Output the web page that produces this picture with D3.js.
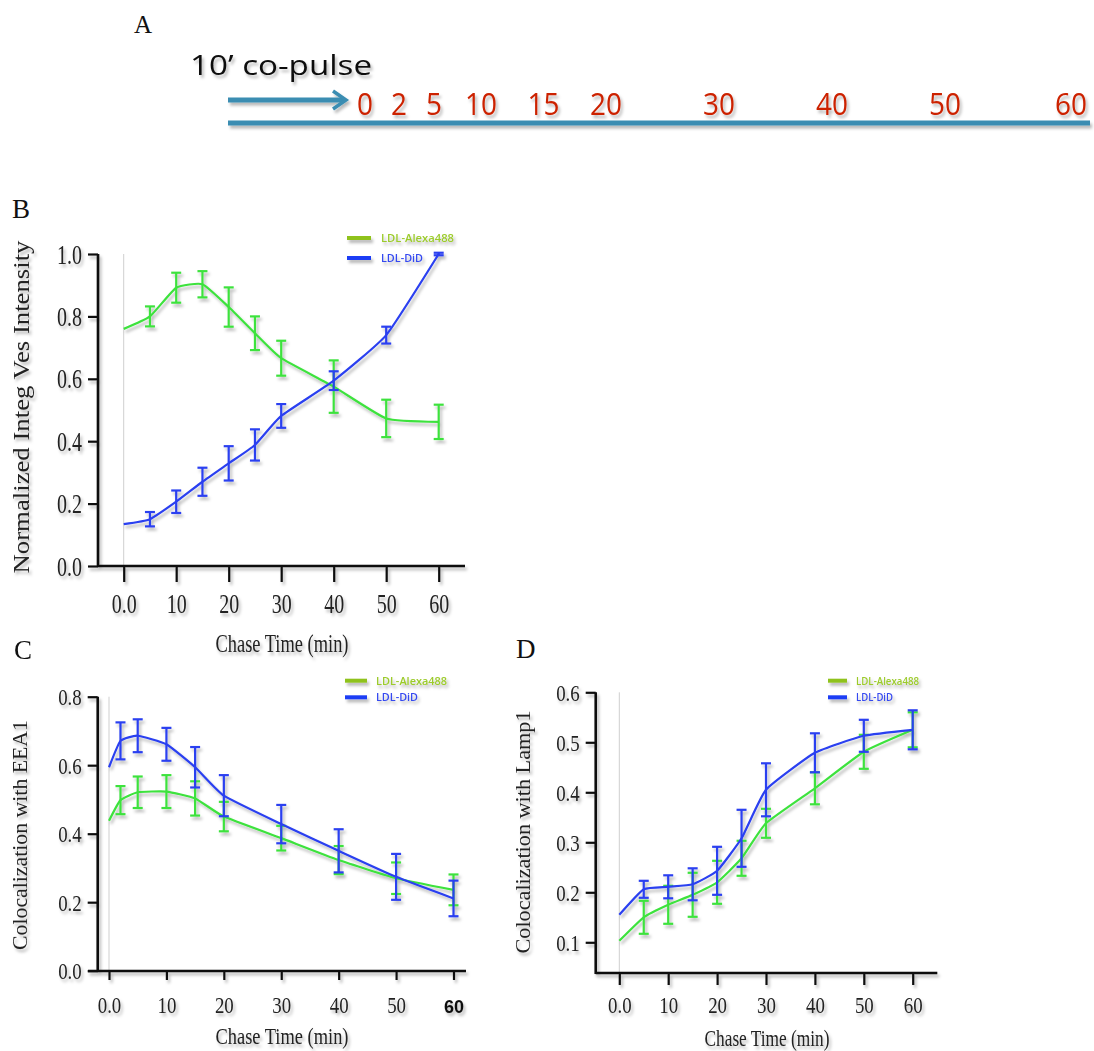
<!DOCTYPE html>
<html><head><meta charset="utf-8">
<script src="https://cdn.jsdelivr.net/npm/d3@7"></script>
<style>body{margin:0;background:#fff;} svg{display:block;}</style>
</head><body>
<script>
// ---------- DATA ----------
const pulseTimes = [0, 2, 5, 10, 15, 20, 30, 40, 50, 60];
const xTicks = [0, 10, 20, 30, 40, 50, 60];

const seriesNames = ["LDL-Alexa488", "LDL-DiD"];

// Panel B
const timeB = [0, 5, 10, 15, 20, 25, 30, 40, 50, 60];
const alexaB = [0.76, 0.80, 0.892, 0.903, 0.83, 0.746, 0.666, 0.575, 0.473, 0.462];
const alexaBErr = [0, 0.032, 0.048, 0.042, 0.063, 0.054, 0.056, 0.084, 0.06, 0.055];
const didB = [0.134, 0.15, 0.206, 0.27, 0.329, 0.388, 0.481, 0.594, 0.74, 1.0];
const didBErr = [0, 0.023, 0.036, 0.045, 0.055, 0.05, 0.038, 0.03, 0.027, 0.004];
const yTicksB = [0, 0.2, 0.4, 0.6, 0.8, 1.0];

// Panel C
const timeC = [0, 2, 5, 10, 15, 20, 30, 40, 50, 60];
const alexaC = [0.438, 0.498, 0.521, 0.523, 0.503, 0.45, 0.387, 0.323, 0.27, 0.236];
const alexaCErr = [0, 0.041, 0.046, 0.048, 0.05, 0.043, 0.036, 0.041, 0.046, 0.045];
const didC = [0.594, 0.671, 0.686, 0.661, 0.594, 0.511, 0.428, 0.35, 0.274, 0.211];
const didCErr = [0, 0.054, 0.048, 0.048, 0.059, 0.06, 0.056, 0.063, 0.067, 0.052];
const yTicksC = [0, 0.2, 0.4, 0.6, 0.8];

// Panel D
const timeD = [0, 5, 10, 15, 20, 25, 30, 40, 50, 60];
const alexaD = [0.103, 0.15, 0.175, 0.195, 0.22, 0.268, 0.338, 0.408, 0.481, 0.525];
const alexaDErr = [0, 0.033, 0.038, 0.044, 0.043, 0.035, 0.029, 0.032, 0.034, 0.035];
const didD = [0.155, 0.206, 0.211, 0.216, 0.243, 0.308, 0.405, 0.479, 0.513, 0.525];
const didDErr = [0, 0.017, 0.023, 0.032, 0.048, 0.057, 0.053, 0.039, 0.032, 0.039];
const yTicksD = [0.1, 0.2, 0.3, 0.4, 0.5, 0.6];

// ---------- STYLE ----------
const GREEN = "#3ee23e", BLUE = "#2a3ff0";
const LEG_GREEN = "#8fc21e", LEG_GREEN_TXT = "#9ccb2c", LEG_BLUE = "#1d3cf5", LEG_BLUE_TXT = "#3549f0";
const TEAL = "#3a8db2", RED = "#cc2200";
const SERIF = "'Liberation Serif','Times New Roman',serif";
const SANS = "'Open Sans','Noto Sans',sans-serif";

const svg = d3.select("body").append("svg").attr("width", 1094).attr("height", 1051);
const defs = svg.append("defs");
const f = defs.append("filter").attr("id", "shadow").attr("x", "-10%").attr("y", "-10%").attr("width", "130%").attr("height", "130%");
f.append("feDropShadow").attr("dx", 2).attr("dy", 3).attr("stdDeviation", 1.6).attr("flood-color", "#000").attr("flood-opacity", 0.28);

function condense(sel, k) {
  sel.each(function () {
    const w = this.getComputedTextLength();
    d3.select(this).attr("textLength", w * k).attr("lengthAdjust", "spacingAndGlyphs");
  });
}

// ---------- PANEL A ----------
(function () {
  const g = svg.append("g");
  g.append("text").attr("x", 134).attr("y", 33).attr("font-family", SERIF).attr("font-size", 25).attr("fill", "#111").text("A");
  const sh = g.append("g").attr("filter", "url(#shadow)");
  sh.append("text").attr("x", 190).attr("y", 75).attr("font-family", SANS).attr("font-size", 28)
    .attr("textLength", 182).attr("lengthAdjust", "spacingAndGlyphs").attr("fill", "#111").text("10\u2019 co-pulse");
  // arrow
  sh.append("line").attr("x1", 228).attr("x2", 344).attr("y1", 100).attr("y2", 100).attr("stroke", TEAL).attr("stroke-width", 5);
  sh.append("path").attr("d", "M333,91 L346,100 L333,109").attr("fill", "none").attr("stroke", TEAL).attr("stroke-width", 3.5).attr("stroke-linejoin", "miter");
  // timeline
  sh.append("line").attr("x1", 228).attr("x2", 1090).attr("y1", 123).attr("y2", 123).attr("stroke", TEAL).attr("stroke-width", 5);
  const pos = d3.scaleLinear().domain([0, 2, 5, 10, 20, 50, 60]).range([365, 399, 434, 481, 606, 945, 1071]);
  sh.selectAll("text.pt").data(pulseTimes).join("text").attr("class", "pt")
    .attr("x", d => pos(d)).attr("y", 115).attr("text-anchor", "middle")
    .attr("font-family", SANS).attr("font-size", 31).attr("fill", RED).text(d => d)
    .call(condense, 0.9);
})();

// ---------- PANELS B, C, D ----------
function drawPanel(p) {
  const g = svg.append("g");
  const x = d3.scaleLinear().domain([0, 60]).range(p.xr);
  const y = d3.scaleLinear().domain(p.yd).range(p.yr);
  const top = y(p.yd[1]);

  // panel letter
  g.append("text").attr("x", p.letter[0]).attr("y", p.letter[1]).attr("font-family", SERIF)
    .attr("font-size", 27).attr("fill", "#111").text(p.id);

  // faint vertical line at t=0
  g.append("line").attr("x1", x(0)).attr("x2", x(0)).attr("y1", top).attr("y2", p.axisY)
    .attr("stroke", "#cfcfcf").attr("stroke-width", 1);

  const sh = g.append("g").attr("filter", "url(#shadow)");

  // x axis
  const xa = sh.append("g").attr("transform", `translate(0,${p.axisY})`)
    .call(d3.axisBottom(x).tickValues(xTicks).tickSize(p.xTick).tickSizeOuter(0)
      .tickFormat(d => d === 0 ? "0.0" : String(d)));
  xa.select(".domain").remove();
  xa.attr("font-family", SERIF).attr("font-size", p.tickFont);
  xa.selectAll("line").attr("stroke", "#111").attr("stroke-width", 2.2);
  xa.selectAll("text").attr("y", p.xLabOff).attr("dy", null).attr("fill", "#222").call(condense, p.cond);
  if (p.boldLast) {
    xa.selectAll("text").filter(d => d === 60).attr("textLength", null).attr("lengthAdjust", null)
      .attr("font-family", "'Liberation Sans',Arial,sans-serif").attr("font-weight", "bold").attr("font-size", 18).attr("fill", "#111");
  }

  // y axis
  const ya = sh.append("g").attr("transform", `translate(${p.axisX},0)`)
    .call(d3.axisLeft(y).tickValues(p.yTicks).tickSize(10).tickSizeOuter(0).tickFormat(d3.format(".1f")));
  ya.select(".domain").remove();
  ya.attr("font-family", SERIF).attr("font-size", p.tickFont);
  ya.selectAll("line").attr("stroke", "#111").attr("stroke-width", 2.2);
  ya.selectAll("text").attr("x", -16).attr("dy", "0.34em").attr("fill", "#222").call(condense, p.cond);

  // axis lines
  sh.append("line").attr("x1", p.axisX).attr("x2", p.axisX).attr("y1", top).attr("y2", p.axisY + 1)
    .attr("stroke", "#111").attr("stroke-width", 2.6);
  sh.append("line").attr("x1", p.xStart).attr("x2", p.xEnd).attr("y1", p.axisY).attr("y2", p.axisY)
    .attr("stroke", "#111").attr("stroke-width", 2.6);

  // series
  const line = d3.line().x((d, i) => x(p.time[i])).y(d => y(d)).curve(d3.curveCardinal.tension(0.55));
  p.series.forEach(s => {
    const sg = sh.append("g");
    sg.append("path").attr("d", line(s.vals)).attr("fill", "none").attr("stroke", s.color).attr("stroke-width", 2.2);
    const eb = s.vals.map((v, i) => ({ t: p.time[i], v, e: s.errs[i] })).filter(d => d.e > 0);
    const bars = sg.selectAll("g.eb").data(eb).join("g").attr("class", "eb")
      .attr("stroke", s.color).attr("stroke-width", 2.2);
    bars.append("line").attr("x1", d => x(d.t)).attr("x2", d => x(d.t)).attr("y1", d => y(d.v - d.e)).attr("y2", d => y(d.v + d.e));
    bars.append("line").attr("x1", d => x(d.t) - 5).attr("x2", d => x(d.t) + 5).attr("y1", d => y(d.v + d.e)).attr("y2", d => y(d.v + d.e));
    bars.append("line").attr("x1", d => x(d.t) - 5).attr("x2", d => x(d.t) + 5).attr("y1", d => y(d.v - d.e)).attr("y2", d => y(d.v - d.e));
  });

  // legend
  const lg = sh.append("g");
  const legCols = [[LEG_GREEN, LEG_GREEN_TXT], [LEG_BLUE, LEG_BLUE_TXT]];
  seriesNames.forEach((n, i) => {
    const yy = p.leg.y[i];
    lg.append("line").attr("x1", p.leg.x0).attr("x2", p.leg.x1).attr("y1", yy).attr("y2", yy)
      .attr("stroke", legCols[i][0]).attr("stroke-width", 4);
    lg.append("text").attr("x", p.leg.tx).attr("y", yy + 4).attr("font-family", SANS).attr("font-size", 11)
      .attr("font-weight", 600).attr("fill", legCols[i][1])
      .attr("textLength", p.leg.w[i]).attr("lengthAdjust", "spacingAndGlyphs").text(n);
  });

  // axis titles
  sh.append("text").attr("x", p.xTitle[0]).attr("y", p.xTitle[1]).attr("text-anchor", "middle")
    .attr("font-family", SERIF).attr("font-size", p.titleFont).attr("fill", "#222")
    .attr("textLength", p.xTitle[2]).attr("lengthAdjust", "spacingAndGlyphs").text("Chase Time (min)");
  sh.append("text").attr("transform", `translate(${p.yTitle[0]},${p.yTitle[1]}) rotate(-90)`)
    .attr("text-anchor", "middle").attr("font-family", SERIF).attr("font-size", p.yTitleFont).attr("fill", "#222")
    .attr("textLength", p.yTitle[2]).attr("lengthAdjust", "spacingAndGlyphs").text(p.yLabel);
}

drawPanel({
  id: "B", letter: [12, 218],
  time: timeB,
  series: [{ vals: alexaB, errs: alexaBErr, color: GREEN }, { vals: didB, errs: didBErr, color: BLUE }],
  xr: [123.7, 438.7], yd: [0, 1], yr: [566, 254], yTicks: yTicksB,
  axisX: 98, axisY: 566, xStart: 98, xEnd: 465, xTick: 16, xLabOff: 47,
  tickFont: 27, cond: 0.74, titleFont: 26, yTitleFont: 24,
  xTitle: [282, 652, 133], yTitle: [29, 407, 333], yLabel: "Normalized Integ Ves Intensity",
  leg: { x0: 347, x1: 371, tx: 381, y: [238, 258], w: [73, 42] }
});

drawPanel({
  id: "C", letter: [14, 659],
  time: timeC,
  series: [{ vals: alexaC, errs: alexaCErr, color: GREEN }, { vals: didC, errs: didCErr, color: BLUE }],
  xr: [109, 453.5], yd: [0, 0.8], yr: [970.7, 696.7], yTicks: yTicksC,
  axisX: 97.7, axisY: 971, xStart: 88, xEnd: 466, xTick: 9, xLabOff: 42, boldLast: true,
  tickFont: 23, cond: 0.82, titleFont: 23, yTitleFont: 22,
  xTitle: [282, 1044, 133], yTitle: [27, 835, 230], yLabel: "Colocalization with EEA1",
  leg: { x0: 345, x1: 367, tx: 376, y: [680.7, 697.3], w: [71, 42] }
});

drawPanel({
  id: "D", letter: [516, 658],
  time: timeD,
  series: [{ vals: alexaD, errs: alexaDErr, color: GREEN }, { vals: didD, errs: didDErr, color: BLUE }],
  xr: [619.3, 912.7], yd: [0.04, 0.6], yr: [972.3, 692.3], yTicks: yTicksD,
  axisX: 595.7, axisY: 973, xStart: 595.7, xEnd: 937.3, xTick: 12, xLabOff: 40,
  tickFont: 23, cond: 0.82, titleFont: 23, yTitleFont: 22,
  xTitle: [767, 1046, 125], yTitle: [530, 832, 243], yLabel: "Colocalization with Lamp1",
  leg: { x0: 828, x1: 847, tx: 856, y: [680.7, 697.3], w: [63, 37] }
});
</script>
</body></html>
